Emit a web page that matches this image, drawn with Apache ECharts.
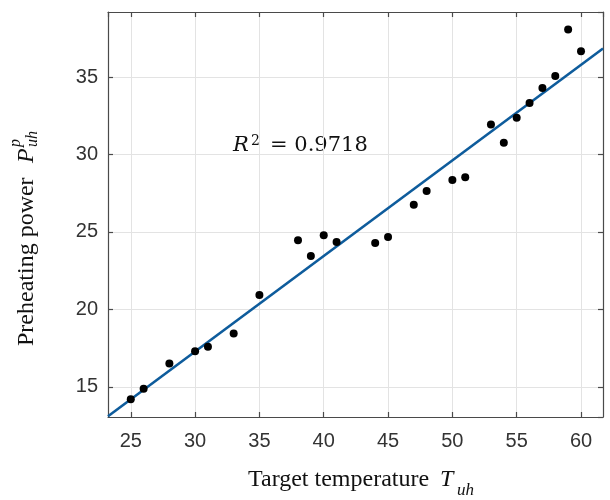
<!DOCTYPE html>
<html>
<head>
<meta charset="utf-8">
<script src="https://cdn.jsdelivr.net/npm/echarts@6/dist/echarts.min.js"></script>
<style>html,body{margin:0;padding:0;background:#fff}#c{width:610px;height:500px}</style>
</head>
<body>
<div id="c"></div>
<script>
// Data
const tempX = [25, 26, 28, 30, 31, 33, 35, 38, 39, 40, 41, 44, 45, 47, 48, 50, 51, 53, 54, 55, 56, 57, 58, 59, 60];
const powerY = [14.19, 14.87, 16.5, 17.3, 17.58, 18.44, 20.93, 24.46, 23.45, 24.79, 24.35, 24.29, 24.68, 26.75, 27.65, 28.36, 28.53, 31.94, 30.76, 32.38, 33.33, 34.29, 35.06, 38.07, 36.66];
const fitX = [23.23, 61.71];
const fitY = [13.1, 36.84];
const xRange = [23.23, 61.71];
const yRange = [13.05, 39.2];
const r2Text = '= 0.9718';

const points = tempX.map((x, i) => [x, powerY[i]]);
const fitLine = fitX.map((x, i) => [x, fitY[i]]);

const chart = echarts.init(document.getElementById('c'), null, {renderer: 'canvas'});
const boxColor = '#4a4a4a';
const labelColor = '#333333';
const fivesOnly = v => (Math.abs(v / 5 - Math.round(v / 5)) < 1e-6 ? String(Math.round(v)) : '');

const baseAxis = {
  type: 'value',
  minInterval: 5,
  maxInterval: 5,
  splitNumber: 8,
  axisLine: {show: true, lineStyle: {color: boxColor, width: 1.2}},
  axisTick: {show: true, inside: true, length: 5, lineStyle: {color: boxColor, width: 1.2}},
  splitLine: {show: false},
};

// text helper: baseline position -> top anchor (zrender draws from the em top)
function txt(x, baseline, text, font, size, rot) {
  const off = 0.8 * size;
  const el = {type: 'text', style: {text: text, font: font, fill: '#111', textAlign: 'left', textVerticalAlign: 'top'}};
  if (rot) { el.x = x - off; el.y = baseline; el.rotation = Math.PI / 2; }
  else { el.x = x; el.y = baseline - off; }
  return el;
}

chart.setOption({
  animation: false,
  backgroundColor: '#ffffff',
  grid: {left: 108, right: 7, top: 12, bottom: 83, containLabel: false},
  xAxis: [
    Object.assign({}, baseAxis, {
      min: xRange[0], max: xRange[1], position: 'bottom',
      axisLabel: {show: true, margin: 14, fontSize: 20, color: labelColor, fontFamily: 'Liberation Sans, Arial, sans-serif', formatter: fivesOnly, showMinLabel: false, showMaxLabel: false},
      splitLine: {show: true, lineStyle: {color: '#e3e3e3', width: 1}}
    }),
    Object.assign({}, baseAxis, {
      min: xRange[0], max: xRange[1], position: 'top',
      axisLabel: {show: false}
    })
  ],
  yAxis: [
    Object.assign({}, baseAxis, {
      min: yRange[0], max: yRange[1], position: 'left',
      axisLabel: {show: true, margin: 10, fontSize: 20, color: labelColor, fontFamily: 'Liberation Sans, Arial, sans-serif', formatter: fivesOnly, showMinLabel: false, showMaxLabel: false},
      splitLine: {show: true, lineStyle: {color: '#e3e3e3', width: 1}}
    }),
    Object.assign({}, baseAxis, {
      min: yRange[0], max: yRange[1], position: 'right',
      axisLabel: {show: false}
    })
  ],
  series: [
    {
      type: 'line',
      data: fitLine,
      xAxisIndex: 0, yAxisIndex: 0,
      showSymbol: false,
      symbol: 'none',
      lineStyle: {color: '#0e5c9c', width: 2.6},
      z: 2
    },
    {
      type: 'scatter',
      data: points,
      xAxisIndex: 0, yAxisIndex: 0,
      symbol: 'circle',
      symbolSize: 8,
      itemStyle: {color: '#000000', opacity: 1},
      z: 3
    }
  ],
  graphic: [
    // R^2 annotation
    txt(233, 152, 'R', 'italic 21px "DejaVu Serif", serif', 21),
    txt(251, 146, '2', '14px "DejaVu Serif", serif', 14),
    txt(270, 152, r2Text, '21px "DejaVu Serif", serif', 21),
    // x axis title
    txt(248, 487, 'Target temperature', '24px "Liberation Serif", serif', 24),
    txt(440, 487, 'T', 'italic 24px "Liberation Serif", serif', 24),
    txt(457, 496, 'uh', 'italic 17px "Liberation Serif", serif', 17),
    // y axis title (rotated)
    txt(34, 346, 'Preheating power', '24px "Liberation Serif", serif', 24, true),
    txt(34, 163, 'P', 'italic 24px "Liberation Serif", serif', 24, true),
    txt(38, 147, 'uh', 'italic 16px "Liberation Serif", serif', 16, true),
    txt(21, 147, 'p', 'italic 16px "Liberation Serif", serif', 16, true)
  ]
});
</script>
</body>
</html>
